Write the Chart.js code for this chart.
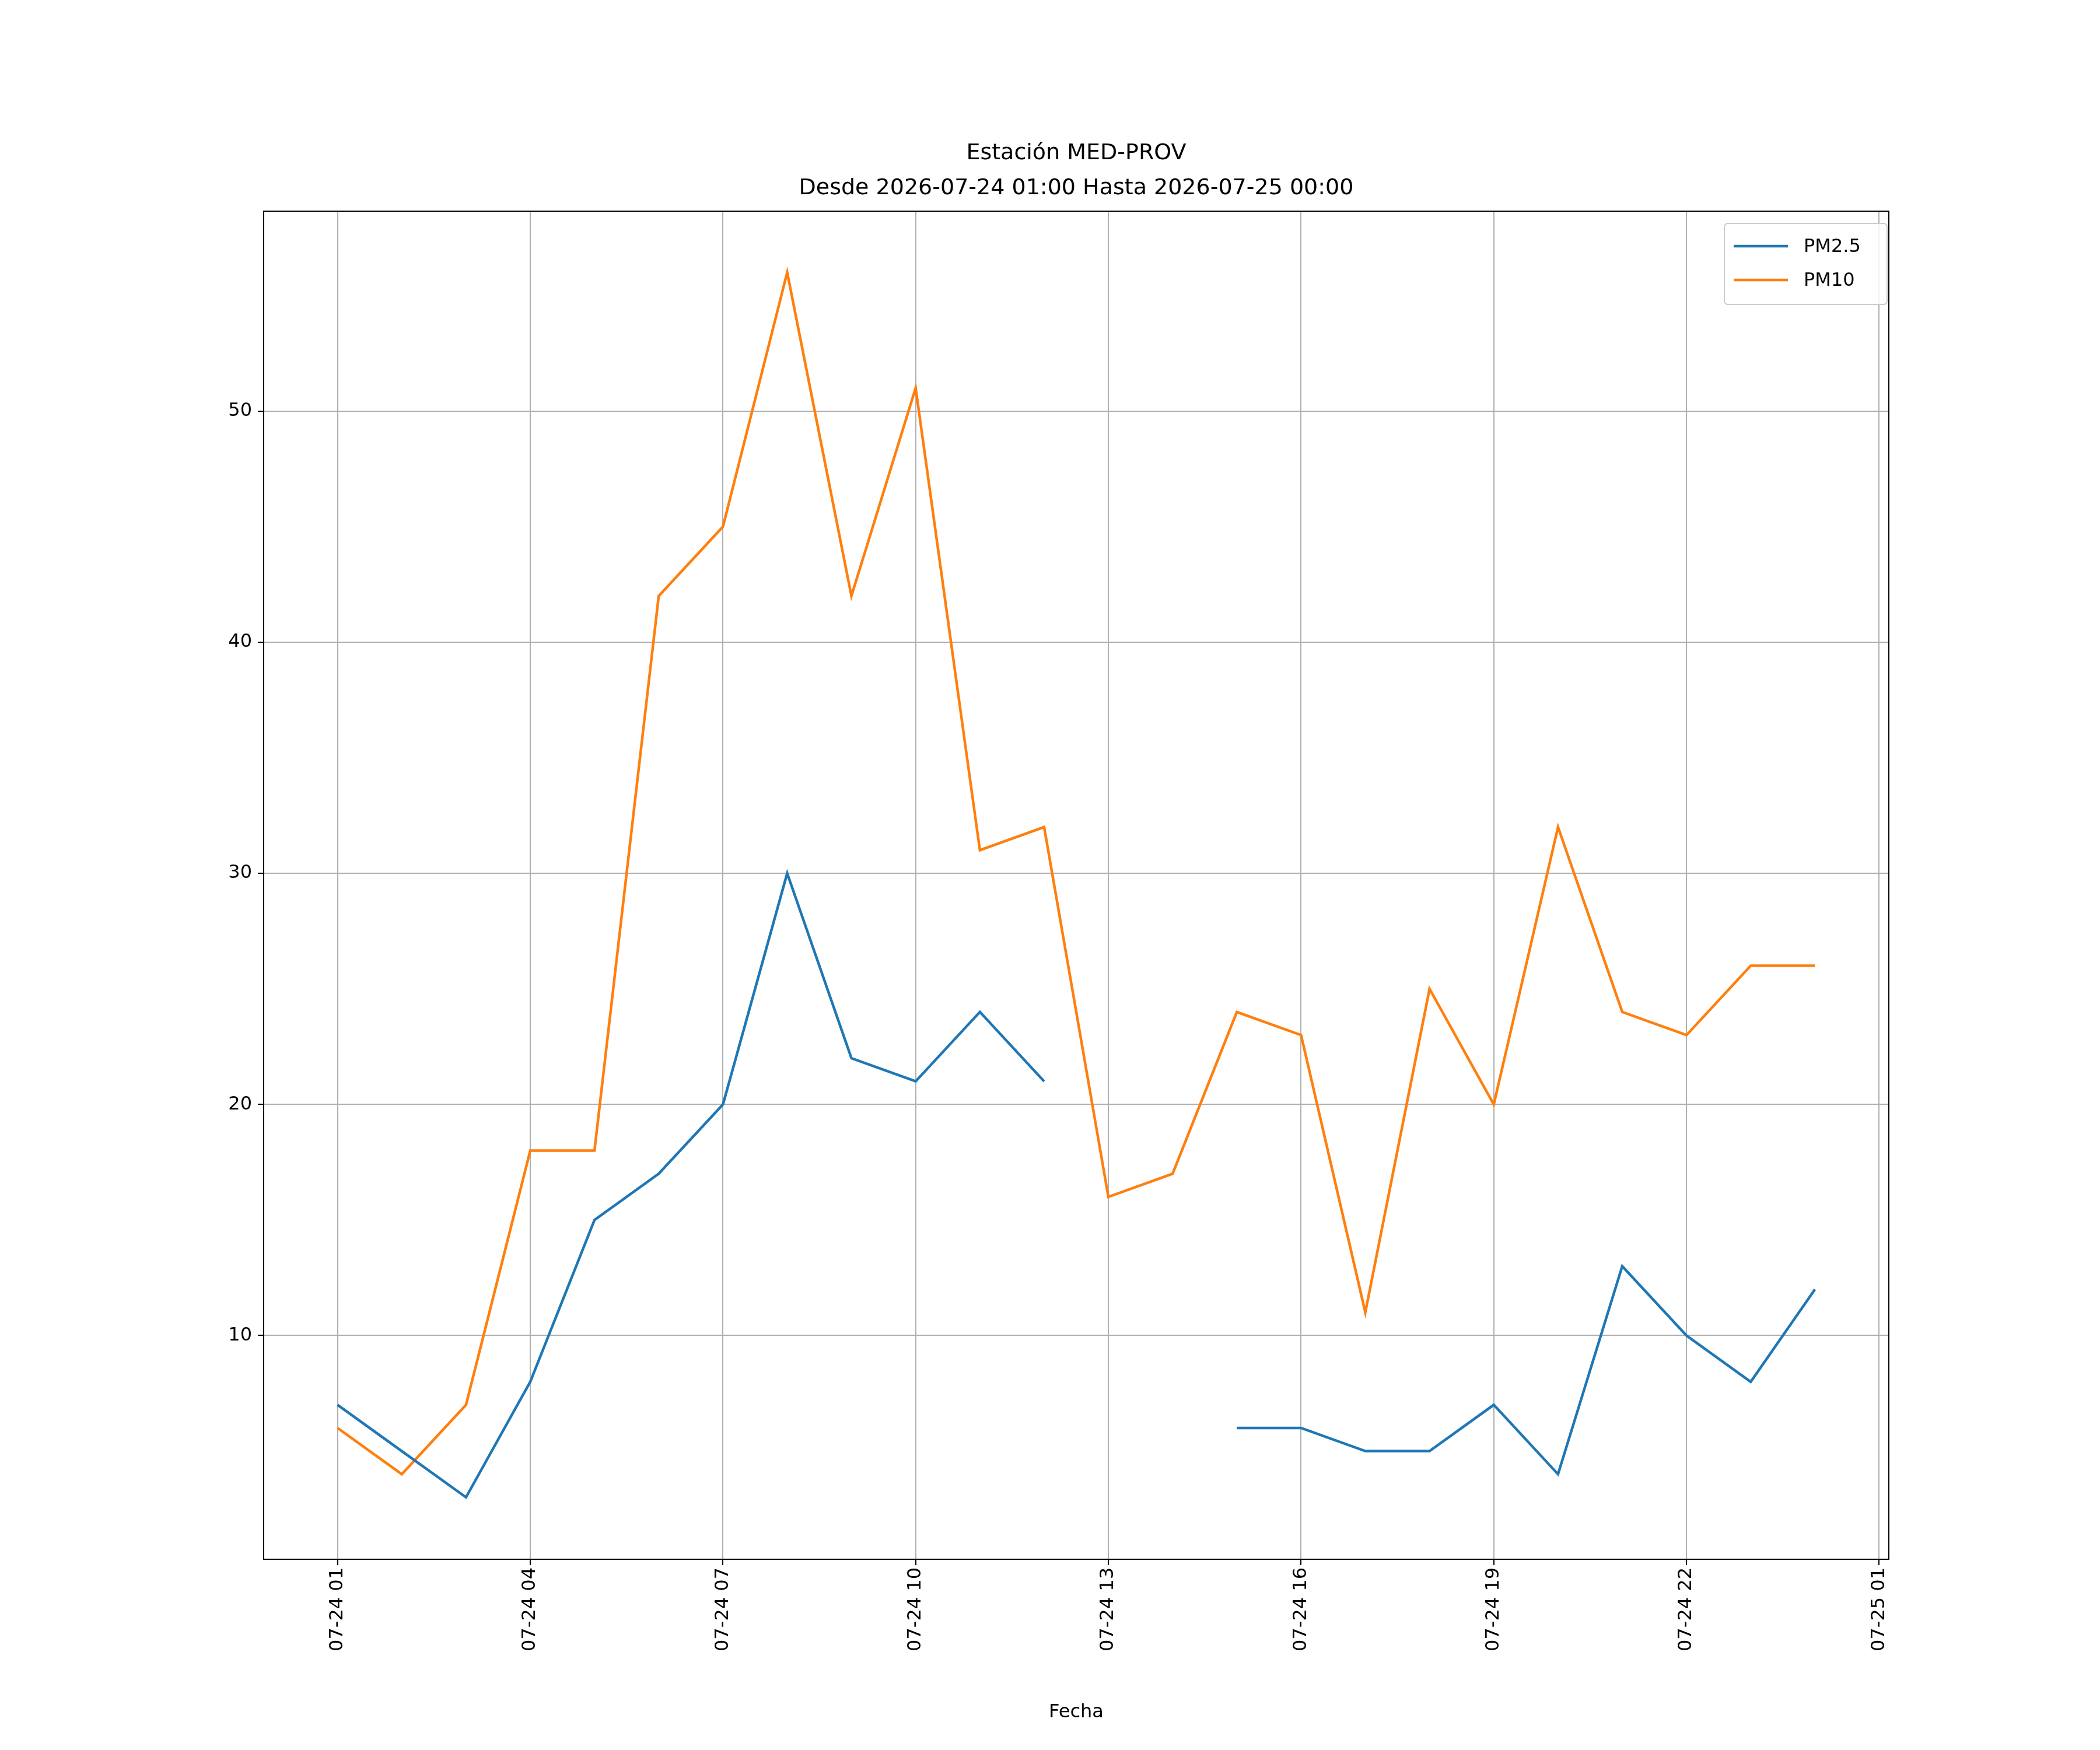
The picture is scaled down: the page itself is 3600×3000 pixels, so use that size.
<!DOCTYPE html>
<html>
<head>
<meta charset="utf-8">
<script src="https://cdn.jsdelivr.net/npm/chart.js@4/dist/chart.umd.min.js"></script>
<style>
  html, body { margin: 0; padding: 0; background: #fff; }
  #wrap { width: 3600px; height: 3000px; }
</style>
</head>
<body>
<div id="wrap"><canvas id="chart" width="3600" height="3000"></canvas></div>
<script>
// hours from 2026-07-24 01:00 to 2026-07-25 00:00
const hours = ['01','02','03','04','05','06','07','08','09','10','11','12','13','14','15','16','17','18','19','20','21','22','23','00'];
const pm25 = [7, 5, 3, 8, 15, 17, 20, 30, 22, 21, 24, 21, null, null, 6, 6, 5, 5, 7, 4, 13, 10, 8, 12];
const pm10 = [6, 4, 7, 18, 18, 42, 45, 56, 42, 51, 31, 32, 16, 17, 24, 23, 11, 25, 20, 32, 24, 23, 26, 26];
const tickLabels = ['07-24 01', '07-24 04', '07-24 07', '07-24 10', '07-24 13', '07-24 16', '07-24 19', '07-24 22', '07-25 01'];
const yTicks = [10, 20, 30, 40, 50];

const FONT = '"DejaVu Sans", sans-serif';
const blue = '#1f77b4';
const orange = '#ff7f0e';

const toPoints = arr => arr.map((v, i) => ({ x: i, y: v }));

// title, frame, legend and x-axis label
const decor = {
    id: 'decor',
    afterDraw(chart) {
        const c = chart.ctx;
        const a = chart.chartArea;
        c.save();
        c.strokeStyle = '#000';
        c.lineWidth = 2;
        c.strokeRect(a.left, a.top, a.right - a.left, a.bottom - a.top);

        c.fillStyle = '#000';
        c.textAlign = 'center';
        c.textBaseline = 'middle';
        c.font = '38px ' + FONT;
        const cx = (a.left + a.right) / 2;
        c.fillText('Estación MED-PROV', cx, 263);
        c.fillText('Desde 2026-07-24 01:00 Hasta 2026-07-25 00:00', cx, 323);

        c.font = '32px ' + FONT;
        c.fillText('Fecha', cx, 2936);

        // legend
        c.fillStyle = 'rgba(255,255,255,0.8)';
        c.strokeStyle = '#cccccc';
        c.lineWidth = 2;
        c.beginPath();
        c.roundRect(2956, 383, 279, 139, 6);
        c.fill();
        c.stroke();
        const items = [['PM2.5', blue, 422], ['PM10', orange, 480]];
        c.textAlign = 'left';
        c.font = '32px ' + FONT;
        items.forEach(([label, col, y]) => {
            c.strokeStyle = col;
            c.lineWidth = 4.5;
            c.beginPath();
            c.moveTo(2972, y);
            c.lineTo(3065, y);
            c.stroke();
            c.fillStyle = '#000';
            c.fillText(label, 3092, y + 2);
        });
        c.restore();
    }
};

new Chart(document.getElementById('chart'), {
    type: 'line',
    data: {
        datasets: [
            { label: 'PM2.5', data: toPoints(pm25), borderColor: blue, borderWidth: 4.5, pointRadius: 0, spanGaps: false, tension: 0 },
            { label: 'PM10', data: toPoints(pm10), borderColor: orange, borderWidth: 4.5, pointRadius: 0, spanGaps: false, tension: 0 }
        ]
    },
    options: {
        responsive: false,
        animation: false,
        devicePixelRatio: 1,
        layout: { padding: { left: 352, right: 362, top: 362, bottom: 27 } },
        plugins: { legend: { display: false }, title: { display: false }, tooltip: { enabled: false } },
        scales: {
            x: {
                type: 'linear',
                min: -1.15,
                max: 24.15,
                afterBuildTicks: axis => { axis.ticks = tickLabels.map((_, i) => ({ value: i * 3 })); },
                afterFit: axis => { axis.height = 300; },
                ticks: {
                    color: '#000',
                    font: { family: FONT, size: 32 },
                    minRotation: 90,
                    maxRotation: 90,
                    padding: 4,
                    callback: v => tickLabels[v / 3]
                },
                grid: { color: '#b0b0b0', lineWidth: 2, tickLength: 10, tickColor: '#000' },
                border: { display: false }
            },
            y: {
                min: 0.32,
                max: 58.65,
                afterBuildTicks: axis => { axis.ticks = yTicks.map(v => ({ value: v })); },
                afterFit: axis => { axis.width = 100; },
                ticks: { color: '#000', font: { family: FONT, size: 32 }, padding: 10 },
                grid: { color: '#b0b0b0', lineWidth: 2, tickLength: 10, tickColor: '#000' },
                border: { display: false }
            }
        }
    },
    plugins: [decor]
});
</script>
</body>
</html>
